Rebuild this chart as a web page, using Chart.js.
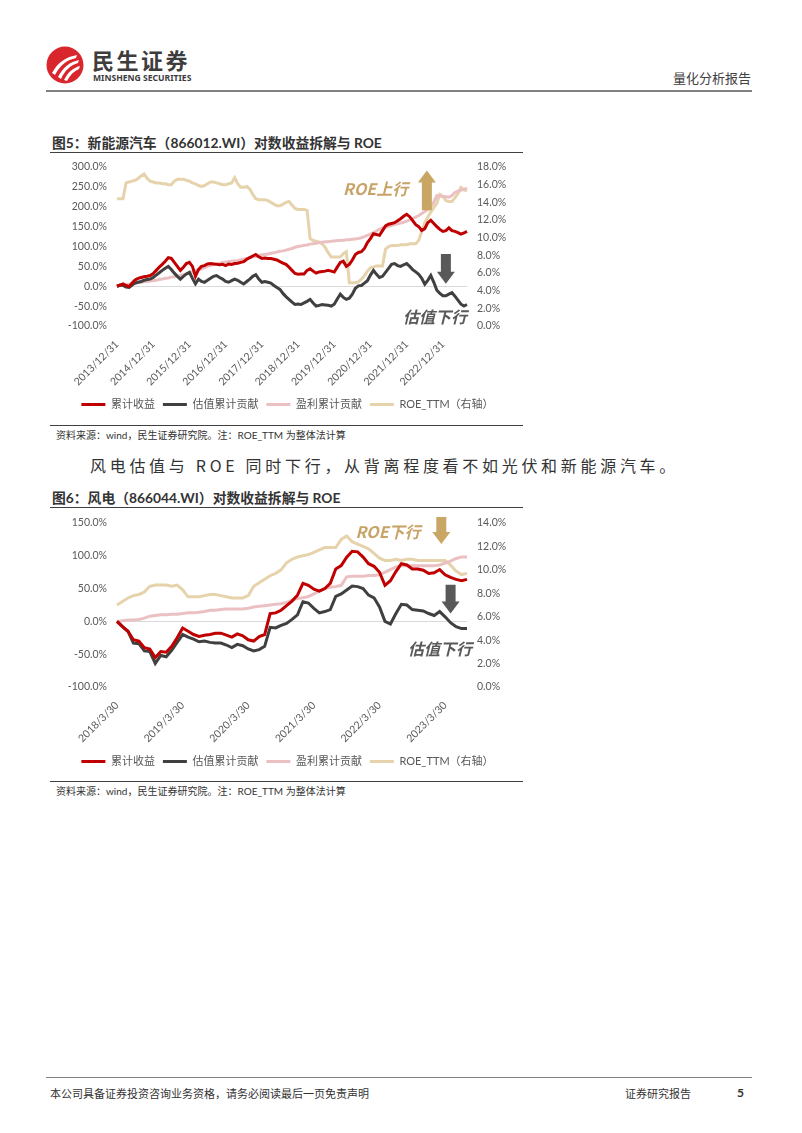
<!DOCTYPE html>
<html>
<head>
<meta charset="utf-8">
<script src="https://cdn.jsdelivr.net/npm/chart.js@4.4.1/dist/chart.umd.min.js"></script>
<style>
html, body { margin: 0; padding: 0; background: #fff; }
body { width: 802px; height: 1133px; position: relative; overflow: hidden;
       font-family: Lato, "Noto Sans CJK SC", sans-serif; color: #333; }
.abs { position: absolute; white-space: nowrap; line-height: 1; }
.rule { position: absolute; height: 1px; background: #404040; }
.title { font-size: 13.8px; font-weight: 700; color: #333; }
.src { font-size: 10px; color: #333; }
canvas { position: absolute; }
</style>
</head>
<body>

<!-- header -->
<svg class="abs" style="left:46px;top:46px" width="38" height="38" viewBox="0 0 38 38">
  <circle cx="19" cy="19" r="18.5" fill="#d9262c"/>
  <path d="M6 27 C12 16 20 11 31 9 L30 12 C21 14 14 19 9 29 Z" fill="#fff"/>
  <path d="M12 31 C17 21 24 16 33 14 L32 17 C25 19 19 24 15 33 Z" fill="#fff"/>
  <path d="M18 34 C22 26 27 22 34 20 L33 23 C28 25 24 29 21 35 Z" fill="#fff"/>
</svg>
<div class="abs" style="left:92px;top:48px;font-size:22px;font-weight:700;letter-spacing:2.5px;color:#3d3d3d;font-family:'Noto Sans CJK SC'">民生证券</div>
<div class="abs" style="left:93px;top:74px;font-size:8.6px;font-weight:700;color:#3d3d3d;font-family:'Liberation Sans Narrow','Noto Sans'">MINSHENG SECURITIES</div>
<div class="abs" style="left:673px;top:71px;font-size:13px;color:#404040;font-family:'Noto Sans CJK SC'">量化分析报告</div>
<div class="rule" style="left:46px;top:90px;width:706px;height:2px;background:#808080"></div>

<!-- figure 5 -->
<div class="abs title" style="left:52px;top:136px">图5：新能源汽车（866012.WI）对数收益拆解与 ROE</div>
<div class="rule" style="left:50px;top:152px;width:473px"></div>
<canvas id="c1" width="475" height="265" style="left:50px;top:155px"></canvas>
<div class="rule" style="left:50px;top:425px;width:473px"></div>
<div class="abs src" style="left:56px;top:430px">资料来源：wind，民生证券研究院。注：ROE_TTM 为整体法计算</div>

<div class="abs" style="left:90px;top:457px;font-size:16px;letter-spacing:3.7px;color:#333;font-family:'Noto Sans CJK SC'">风电估值与 ROE 同时下行，从背离程度看不如光伏和新能源汽车。</div>

<!-- figure 6 -->
<div class="abs title" style="left:52px;top:491px">图6：风电（866044.WI）对数收益拆解与 ROE</div>
<div class="rule" style="left:50px;top:507px;width:473px"></div>
<canvas id="c2" width="475" height="267" style="left:50px;top:510px"></canvas>
<div class="rule" style="left:50px;top:781px;width:473px"></div>
<div class="abs src" style="left:56px;top:786px">资料来源：wind，民生证券研究院。注：ROE_TTM 为整体法计算</div>

<!-- footer -->
<div class="rule" style="left:46px;top:1077px;width:706px;background:#808080"></div>
<div class="abs" style="left:50px;top:1088px;font-size:11px;color:#333;font-family:'Noto Sans CJK SC'">本公司具备证券投资咨询业务资格，请务必阅读最后一页免责声明</div>
<div class="abs" style="left:625px;top:1088px;font-size:11px;color:#333;font-family:'Noto Sans CJK SC'">证券研究报告</div>
<div class="abs" style="left:737px;top:1087px;font-size:12px;font-weight:700;color:#333">5</div>

<script>
// ---- 图5 新能源汽车, monthly from 2013/12 ----
const nevStart = [2013, 12];
const nevTicks = ['2013/12/31', '2014/12/31', '2015/12/31', '2016/12/31', '2017/12/31',
                  '2018/12/31', '2019/12/31', '2020/12/31', '2021/12/31', '2022/12/31'];
const nevRet = [0, 3, 6, 2, -1, 8, 16, 20, 22, 24,
    25, 27, 32, 40, 48, 55, 63, 72, 70, 60,
    50, 40, 48, 57, 60, 50, 25, 42, 50, 52,
    56, 57, 56, 55, 54, 55, 52, 56, 55, 57,
    58, 60, 62, 68, 72, 76, 80, 74, 70, 71,
    70, 70, 68, 66, 62, 58, 55, 48, 40, 32,
    30, 31, 31, 40, 44, 38, 33, 36, 37, 38,
    40, 38, 36, 48, 60, 63, 50, 55, 66, 80,
    85, 87, 95, 110, 120, 132, 130, 128, 140, 152,
    156, 158, 160, 165, 170, 176, 181, 175, 165, 155,
    150, 140, 145, 160, 166, 158, 150, 143, 138, 140,
    147, 140, 138, 135, 131, 134, 138];
const nevVal = [0, 3, 2, -2, -3, 3, 8, 10, 12, 15,
    17, 18, 22, 28, 34, 40, 45, 50, 42, 33,
    25, 18, 25, 31, 35, 20, 6, 18, 12, 10,
    15, 20, 25, 27, 22, 18, 12, 10, 14, 18,
    15, 10, 6, 12, 18, 25, 29, 18, 10, 12,
    10, 8, 2, -3, -8, -18, -26, -33, -40, -46,
    -45, -46, -42, -38, -33, -42, -50, -48, -46, -47,
    -48, -50, -45, -32, -20, -28, -33, -30, -20, -5,
    1, 2, 8, 14, 28, 40, 30, 22, 25, 35,
    45, 55, 57, 52, 50, 54, 57, 50, 42, 36,
    30, 20, 5, 15, 27, 10, -10, -18, -24, -24,
    -20, -16, -25, -35, -45, -50, -46];
const nevEarn = [0, 1, 2, 4, 5, 6, 7, 9, 10, 11,
    12, 13, 14, 15, 17, 18, 20, 21, 23, 24,
    26, 27, 29, 31, 33, 36, 39, 41, 44, 47,
    50, 52, 55, 57, 58, 60, 61, 62, 63, 64,
    65, 67, 68, 70, 72, 74, 75, 77, 79, 80,
    81, 83, 84, 86, 88, 89, 91, 93, 95, 98,
    100, 101, 103, 104, 106, 107, 108, 110, 111, 112,
    112, 113, 114, 115, 115, 116, 117, 117, 118, 119,
    120, 122, 125, 128, 131, 135, 139, 143, 147, 149,
    151, 153, 155, 157, 159, 161, 164, 167, 171, 174,
    178, 183, 188, 193, 200, 212, 228, 227, 226, 225,
    224, 228, 236, 239, 242, 244, 246];
const nevRoe = [14.4, 14.4, 14.4, 16.2, 16.3, 16.4, 16.5, 16.7, 17.0, 17.2,
    16.7, 16.4, 16.3, 16.2, 16.2, 16.1, 16.1, 16.0, 16.0, 16.4,
    16.6, 16.6, 16.6, 16.5, 16.4, 16.2, 16.1, 15.9, 15.8, 15.9,
    16.1, 16.3, 16.3, 16.2, 16.1, 16.0, 16.0, 16.1, 16.2, 16.8,
    16.1, 15.7, 15.7, 15.8, 15.5, 14.9, 14.4, 14.3, 14.3, 14.3,
    14.2, 14.0, 13.8, 13.6, 13.6, 13.8, 14.0, 14.1, 13.7, 13.3,
    13.2, 13.2, 13.2, 13.1, 9.9, 9.7, 9.6, 9.5, 9.3, 8.9,
    8.3, 7.8, 7.8, 7.8, 7.8, 8.2, 8.4, 4.9, 4.9, 4.9,
    5.0, 5.3, 5.7, 6.2, 6.6, 6.7, 6.8, 6.8, 6.8, 8.7,
    9.0, 9.1, 9.1, 9.1, 9.2, 9.2, 9.2, 9.3, 9.3, 9.3,
    9.7, 10.7, 11.7, 12.3, 12.9, 13.4, 13.9, 14.9, 14.7, 14.2,
    14.1, 14.1, 14.5, 15.0, 15.7, 15.4, 15.3];

// ---- 图6 风电, monthly from 2018/3 ----
const windStart = [2018, 3];
const windTicks = ['2018/3/30', '2019/3/30', '2020/3/30', '2021/3/30', '2022/3/30', '2023/3/30'];
const windRet = [0, -8, -15, -28, -30, -40, -42, -55, -46, -47,
    -38, -25, -10, -15, -20, -23, -21, -20, -18, -18,
    -21, -24, -19, -22, -28, -30, -23, -20, 12, 13,
    17, 24, 31, 40, 58, 55, 49, 46, 50, 58,
    80, 85, 98, 107, 106, 98, 88, 84, 75, 55,
    62, 76, 88, 86, 80, 80, 78, 73, 74, 79,
    71, 67, 64, 62, 64];
const windVal = [0, -8, -15, -33, -34, -45, -46, -64, -52, -54,
    -44, -32, -20, -24, -27, -31, -30, -32, -33, -33,
    -36, -40, -35, -37, -42, -45, -43, -38, -9, -10,
    -6, -3, 3, 10, 30, 28, 20, 13, 15, 18,
    38, 42, 48, 54, 53, 50, 40, 36, 22, 0,
    -4, 12, 26, 25, 18, 17, 16, 12, 9, 15,
    7, -2, -8, -11, -11];
const windEarn = [0, 1, 2, 2, 3, 5, 8, 9, 10, 10,
    11, 11, 12, 13, 13, 14, 15, 17, 17, 18,
    19, 19, 19, 19, 20, 22, 23, 24, 25, 26,
    27, 29, 32, 35, 36, 38, 42, 46, 50, 52,
    53, 55, 68, 69, 69, 69, 70, 70, 71, 75,
    79, 83, 85, 85, 85, 85, 85, 85, 85, 86,
    89, 92, 96, 98, 98];
const windRoe = [7.0, 7.3, 7.6, 7.8, 7.9, 8.1, 8.6, 8.7, 8.7, 8.7,
    8.6, 8.7, 8.3, 7.7, 7.7, 7.7, 7.8, 7.9, 7.9, 7.8,
    7.7, 7.6, 7.6, 7.6, 7.8, 8.6, 8.9, 9.2, 9.5, 9.7,
    10.0, 10.6, 10.9, 11.1, 11.2, 11.3, 11.5, 11.7, 11.9, 11.9,
    11.9, 12.6, 12.9, 12.4, 12.2, 12.0, 11.8, 11.4, 11.0, 10.8,
    10.8, 10.9, 10.8, 10.9, 10.9, 10.8, 10.8, 10.8, 10.8, 10.8,
    10.8, 10.4, 9.9, 9.6, 9.7];

const seriesNames = ['累计收益', '估值累计贡献', '盈利累计贡献', 'ROE_TTM（右轴）'];
const seriesColors = ['#c00000', '#404040', '#ebc0c2', '#e6d3ac'];

function monthLabels(start, n) {
    const out = [];
    for (let k = 0; k < n; k++) {
        const d = new Date(start[0], start[1] + k, 0); // month end
        out.push(`${d.getFullYear()}/${d.getMonth() + 1}/${d.getDate()}`);
    }
    return out;
}

// arrows and callouts, placed in data units
const notes = {
    id: 'notes',
    afterDatasetsDraw(chart, args, opts) {
        const {ctx} = chart;
        const x = chart.scales.x, y = chart.scales.y;
        ctx.save();
        for (const n of opts.items || []) {
            const px = x.getPixelForValue(n.i);
            if (n.text) {
                ctx.font = 'italic bold 16px "Noto Sans CJK SC"';
                ctx.fillStyle = n.color;
                ctx.textAlign = 'right';
                ctx.textBaseline = 'middle';
                ctx.fillText(n.text, px, y.getPixelForValue(n.v));
            } else {
                const y0 = y.getPixelForValue(n.from), y1 = y.getPixelForValue(n.to);
                const dir = y1 < y0 ? -1 : 1, yb = y1 - dir * 12;
                ctx.fillStyle = n.color;
                ctx.beginPath();
                ctx.moveTo(px - 5, y0); ctx.lineTo(px + 5, y0); ctx.lineTo(px + 5, yb);
                ctx.lineTo(px + 9, yb); ctx.lineTo(px, y1); ctx.lineTo(px - 9, yb);
                ctx.lineTo(px - 5, yb); ctx.closePath();
                ctx.fill();
            }
        }
        ctx.restore();
    }
};

Chart.defaults.font.family = 'Lato, "Noto Sans CJK SC", sans-serif';
Chart.defaults.font.size = 10.5;
Chart.defaults.color = '#595959';

// y axes: fixed width, and no extra top/bottom room for the end labels
function fixY(width) {
    return s => { s.width = width; s.paddingTop = 0; s.paddingBottom = 0; };
}

function makeChart(id, labels, tickLabels, series, left, right, xHeight, items) {
    const pct = v => v.toFixed(1) + '%';
    return new Chart(document.getElementById(id), {
        type: 'line',
        data: {
            labels: labels,
            datasets: series.map((s, k) => ({
                label: seriesNames[k],
                data: s,
                borderColor: seriesColors[k],
                backgroundColor: seriesColors[k],
                borderWidth: 3,
                pointRadius: 0,
                tension: 0,
                yAxisID: k === 3 ? 'y1' : 'y'
            }))
        },
        options: {
            responsive: false,
            animation: false,
            layout: {autoPadding: false, padding: {top: left.pad, bottom: 0, left: 0, right: 0}},
            plugins: {
                legend: {
                    position: 'bottom',
                    labels: {
                        usePointStyle: true, pointStyle: 'line', pointStyleWidth: 24,
                        padding: 8, font: {size: 11}, color: '#595959'
                    }
                },
                tooltip: {enabled: false},
                notes: {items: items}
            },
            scales: {
                x: {
                    grid: {display: false}, border: {display: false},
                    ticks: {
                        autoSkip: false, minRotation: 45, maxRotation: 45, padding: 4,
                        callback: (v, i) => i % 12 === 0 ? tickLabels[i / 12] : ''
                    },
                    afterFit: s => { s.height = xHeight; }
                },
                y: {
                    position: 'left', min: left.min, max: left.max,
                    border: {display: false},
                    grid: {drawTicks: false, color: c => c.tick && c.tick.value === 0 ? '#d9d9d9' : 'transparent'},
                    ticks: {stepSize: 50, padding: 10, callback: pct},
                    afterFit: fixY(67)
                },
                y1: {
                    position: 'right', min: 0, max: right.max,
                    border: {display: false}, grid: {display: false, drawTicks: false},
                    ticks: {stepSize: 2, padding: 10, callback: pct},
                    afterFit: fixY(58)
                }
            }
        },
        plugins: [notes]
    });
}

makeChart('c1', monthLabels(nevStart, nevRet.length), nevTicks,
    [nevRet, nevVal, nevEarn, nevRoe],
    {min: -100, max: 300, pad: 12}, {max: 18}, 65,
    [
        {text: 'ROE上行', i: 96.5, v: 245, color: '#c8a367'},
        {i: 102.7, from: 191, to: 291, color: '#c9a664'},
        {i: 109, from: 81, to: 6, color: '#595959'},
        {text: '估值下行', i: 116, v: -76, color: '#595959'}
    ]);

makeChart('c2', monthLabels(windStart, windRet.length), windTicks,
    [windRet, windVal, windEarn, windRoe],
    {min: -100, max: 150, pad: 13}, {max: 14}, 61,
    [
        {text: 'ROE下行', i: 55.5, v: 136, color: '#c8a367'},
        {i: 59.3, from: 159, to: 118, color: '#c9a664'},
        {i: 61, from: 56, to: 12, color: '#595959'},
        {text: '估值下行', i: 64.9, v: -42, color: '#595959'}
    ]);
</script>
</body>
</html>
